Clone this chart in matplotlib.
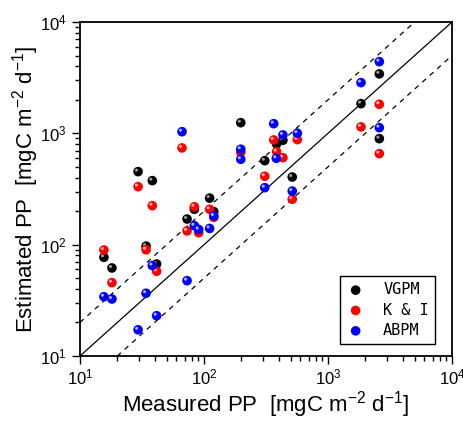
import matplotlib
matplotlib.use("Agg")
import matplotlib.pyplot as plt
from matplotlib.transforms import offset_copy
import numpy as np

plt.rcParams['font.family'] = ['Liberation Sans', 'DejaVu Sans']
plt.rcParams['mathtext.fontset'] = 'custom'
plt.rcParams['mathtext.rm'] = 'Liberation Sans'
plt.rcParams['mathtext.it'] = 'Liberation Sans'

# measured vs estimated primary production
vgpm_x = [15.6, 18.1, 29.4, 34.1, 38.3, 41.5, 73, 83.6, 111, 120, 198, 309, 385, 433, 515, 1845, 2594, 2594]
vgpm_y = [77, 61.8, 453, 97, 376, 67, 170, 208, 262, 198, 1247, 568, 803, 867, 405, 1849, 3420, 896]

ki_x = [15.6, 18.1, 29.4, 34.1, 38.3, 41.5, 66.5, 73, 83.6, 90.6, 111, 120, 198, 309, 365, 385, 433, 515, 566, 1845, 2594, 2594]
ki_y = [89.6, 45.6, 332, 90, 224, 57.7, 740, 133, 219, 128, 208, 176, 676, 412, 873, 685, 605, 256, 878, 1143, 1825, 657]

abpm_x = [15.6, 18.1, 29.4, 34.1, 38.3, 41.5, 66.5, 73, 83.6, 90.6, 111, 120, 198, 198, 309, 365, 383, 433, 515, 566, 1845, 2594, 2594]
abpm_y = [34.1, 32.5, 17.2, 36.6, 65, 23, 1035, 47.5, 148, 137, 140, 181, 720, 585, 325, 1222, 597, 968, 303, 1003, 2856, 4404, 1125]

series = [
    ("VGPM", vgpm_x, vgpm_y, "black", "#9a9a9a"),
    ("K & I", ki_x, ki_y, "#ff0000", "#ffb0b0"),
    ("ABPM", abpm_x, abpm_y, "#0000ff", "#b0b0ff"),
]

fig = plt.figure(figsize=(4.64, 4.21), dpi=100)
ax = fig.add_axes([0.1724, 0.1544, 0.8017, 0.7933])
ax.set_xscale('log')
ax.set_yscale('log')
ax.set_xlim(10, 1e4)
ax.set_ylim(10, 1e4)

# 1:1 line and factor-of-2 lines
xx = np.array([10, 1e4])
ax.plot(xx, xx, color='black', lw=0.9, zorder=1)
ax.plot(xx, xx * 2, color='black', lw=0.9, ls=(0, (4, 4)), zorder=1)
ax.plot(xx, xx / 2, color='black', lw=0.9, ls=(0, (4, 4)), zorder=1)

hl = offset_copy(ax.transData, fig=fig, x=-1.5, y=1.5, units='dots')
handles = []
z = 3
for name, x, y, col, light in series:
    h = ax.scatter(x, y, s=48, c=col, edgecolors='none', zorder=z, label=name)
    ax.scatter(x, y, s=5, c=light, edgecolors='none', zorder=z + 0.5, transform=hl)
    handles.append(h)
    z += 1

ax.tick_params(which='both', direction='out', top=False, right=False, labelsize=12, width=1)
ax.tick_params(which='major', length=6)
ax.tick_params(which='minor', length=3.5)
ax.tick_params(axis='x', pad=2.5)
for s in ax.spines.values():
    s.set_linewidth(1.3)

ax.set_xlabel(r"Measured PP  [mgC m$^{-2}$ d$^{-1}$]", fontsize=16, labelpad=1)
ax.set_ylabel(r"Estimated PP  [mgC m$^{-2}$ d$^{-1}$]", fontsize=16, labelpad=-1)

leg = ax.legend(handles=handles, loc='lower right', bbox_to_anchor=(0.954, 0.036),
                borderaxespad=0, fancybox=False, edgecolor='black', framealpha=1,
                prop={'family': 'DejaVu Sans Mono', 'size': 11}, handletextpad=1.2,
                borderpad=0.4, labelspacing=0.35, handlelength=1.2)
leg.get_frame().set_linewidth(1)

fig.savefig("out.png", dpi=100)
